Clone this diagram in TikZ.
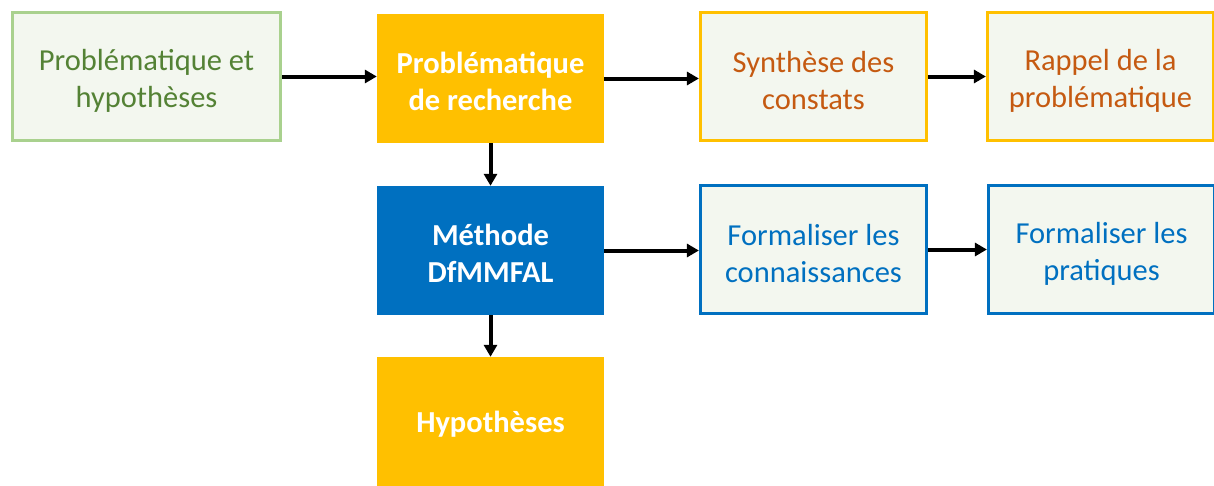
\documentclass[tikz,border=0pt]{standalone}
\usepackage{fontspec}
\setmainfont{Carlito}
\usetikzlibrary{arrows.meta}
\definecolor{gborder}{HTML}{A9D18E}
\definecolor{gtext}{HTML}{548235}
\definecolor{lfill}{HTML}{F3F7EF}
\definecolor{orangeY}{HTML}{FFC000}
\definecolor{otext}{HTML}{C55A11}
\definecolor{bblue}{HTML}{0070C0}
\tikzset{
  txt/.style={align=center, font=\fontsize{30.5}{37}\selectfont, inner sep=0pt},
  outl/.style={draw, line width=3.2pt, fill=lfill, inner sep=0pt},
  solid box/.style={fill=#1, inner sep=0pt},
  inner text/.style 2 args={label={[txt, text=#1, yshift=-4pt]center:{#2}}},
  bold text/.style={label={[txt, text=white, font=\fontsize{30.5}{37}\selectfont\bfseries, yshift=-3pt]center:{#1}}},
  arr/.style={line width=4pt, -{Triangle[length=12pt,width=13pt]}}
}
\begin{document}
\begin{tikzpicture}[x=1pt,y=-1pt]
\useasboundingbox (0,0) rectangle (1214,485);
\node[outl, draw=gborder, minimum width=268pt, minimum height=128pt, inner text={gtext}{Problématique et\\hypothèses}] (b1) at (146.5,76.5) {};
\node[solid box=orangeY, minimum width=227pt, minimum height=129pt, bold text={Problématique\\de recherche}] (b2) at (490.5,78.5) {};
\node[outl, draw=orangeY, minimum width=226pt, minimum height=128pt, inner text={otext}{Synthèse des\\constats}] (b3) at (813.5,76.5) {};
\node[outl, draw=orangeY, minimum width=226pt, minimum height=128pt, inner text={otext}{Rappel de la\\problématique}] (b4) at (1100.5,76.5) {};
\node[solid box=bblue, minimum width=227pt, minimum height=129pt, bold text={Méthode\\DfMMFAL}] (m) at (490.5,250.5) {};
\node[outl, draw=bblue, minimum width=226pt, minimum height=128pt, inner text={bblue}{Formaliser les\\connaissances}] (c) at (813.5,249.5) {};
\node[outl, draw=bblue, minimum width=226pt, minimum height=128pt, inner text={bblue}{Formaliser les\\pratiques}] (p) at (1101.5,249.5) {};
\node[solid box=orangeY, minimum width=227pt, minimum height=129pt, bold text={Hypothèses}] (h) at (490.5,421.5) {};
\draw[arr] (b1.east) -- (b1.east -| b2.west);
\draw[arr] (b2.east) -- (b2.east -| b3.west);
\draw[arr] (b3.east) -- (b3.east -| b4.west);
\draw[arr] (b2.south) -- (m.north);
\draw[arr] (m.east) -- (m.east -| c.west);
\draw[arr] (c.east) -- (c.east -| p.west);
\draw[arr] (m.south) -- (h.north);
\end{tikzpicture}
\end{document}
